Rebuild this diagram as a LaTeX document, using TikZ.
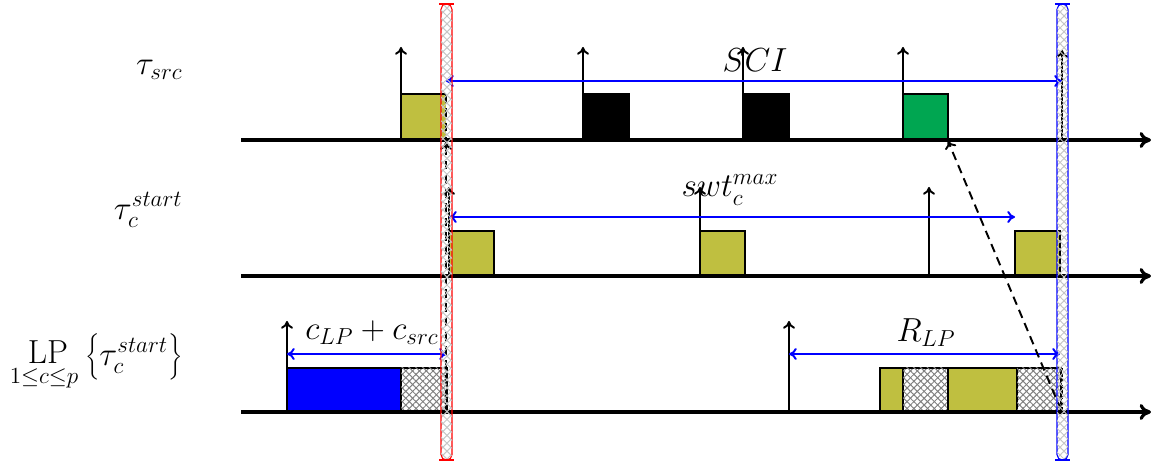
\documentclass[tikz,border=0pt]{standalone}
\usetikzlibrary{patterns.meta,arrows.meta}
\definecolor{olivebox}{RGB}{191,191,64}
\definecolor{greenbox}{RGB}{0,166,81}
\begin{document}
\begin{tikzpicture}[x=0.5184pt,y=-0.5184pt,
  every node/.style={font=\LARGE},
  axisline/.style={line width=1.64pt,-{To[length=5.9pt,width=8.3pt]}},
  uparrow/.style={line width=1pt,-{To[length=4pt,width=6.2pt]}},
  span/.style={blue,line width=1pt,{To[length=4pt,width=6.2pt]}-{To[length=4pt,width=6.2pt]}},
  job/.style={draw=black,line width=1pt},
  hatch/.style={pattern={Lines[angle=45,distance=2.5pt,line width=0.52pt]},pattern color=gray,
    postaction={pattern={Lines[angle=-45,distance=2.5pt,line width=0.52pt]},pattern color=gray}},
  bandhatch/.style={pattern={Lines[angle=45,distance=2.9pt,line width=0.52pt]},pattern color=gray!45,
    postaction={pattern={Lines[angle=-45,distance=2.9pt,line width=0.52pt]},pattern color=gray!45}},
  dashline/.style={line width=1pt,dash pattern=on 4.5pt off 2.9pt},
  lbl/.style={inner sep=0pt,anchor=east}
]
\useasboundingbox (0,0) rectangle (1151,463);

% left labels
\node[lbl] (l1) at (183,70) {$\tau_{src}$};
\node[lbl] (l2) at (183,210) {$\tau_c^{start}$};
\node[inner sep=0pt] (l3a) at (48,352) {$\mathrm{LP}$};
\node[inner sep=0pt] (l3b) at (44,378) {$\scriptstyle 1\le c\le p$};
\node[lbl] (l3c) at (183,358) {$\left\{\rule[-9pt]{0pt}{24pt}\tau_c^{start}\right\}$};

% axes
\coordinate (a1s) at (241,140); \coordinate (a1e) at (1151,140);
\coordinate (a2s) at (241,276); \coordinate (a2e) at (1151,276);
\coordinate (a3s) at (241,412); \coordinate (a3e) at (1151,412);

% row 1 jobs
\fill[olivebox] (401,94) rectangle (446,140);
\draw[job] (446,94) -- (401,94) -- (401,140);
\draw[job,fill=black] (583,94) rectangle (629,140);
\draw[job,fill=black] (743,94) rectangle (789,140);
\draw[job,fill=greenbox] (903,94) rectangle (948,140);

% row 2 jobs
\draw[job,fill=olivebox] (449,231) rectangle (494,276);
\draw[job,fill=olivebox] (700,231) rectangle (745,276);
\draw[job,fill=olivebox] (1015,231) rectangle (1060,276);

% row 3 jobs
\draw[job,fill=blue] (287,368) rectangle (401,412);
\draw[job,hatch] (401,368) rectangle (447,412);
\draw[job,fill=olivebox] (880,368) rectangle (903,412);
\draw[job,hatch] (903,368) rectangle (948,412);
\draw[job,fill=olivebox] (948,368) rectangle (1017,412);
\draw[job,hatch] (1017,368) rectangle (1061,412);

% axes drawn
\draw[axisline] (a1s) -- (a1e);
\draw[axisline] (a2s) -- (a2e);
\draw[axisline] (a3s) -- (a3e);

% release arrows row 1
\foreach \x/\n in {401/r1a,583/r1b,743/r1c,903/r1d}{
  \coordinate (\n b) at (\x,140); \coordinate (\n t) at (\x,47);
  \draw[uparrow] (\n b) -- (\n t);
}
\coordinate (r1eb) at (1062,140); \coordinate (r1et) at (1062,50);
\draw[uparrow] (r1eb) -- (r1et);

% release arrows row 2
\foreach \x/\n in {449/r2a,700/r2b,929/r2c}{
  \coordinate (\n b) at (\x,276); \coordinate (\n t) at (\x,187);
  \draw[uparrow] (\n b) -- (\n t);
}

% release arrows row 3
\foreach \x/\n in {287/r3a,789/r3b}{
  \coordinate (\n b) at (\x,412); \coordinate (\n t) at (\x,321);
  \draw[uparrow] (\n b) -- (\n t);
}

% spans
\coordinate (sciL) at (446,81); \coordinate (sciR) at (1062,81);
\draw[span] (sciL) -- (sciR);
\node (sci) at (755,60) {$SCI$};

\coordinate (swtL) at (449,217); \coordinate (swtR) at (1015,217);
\draw[span] (swtL) -- (swtR);
\node (swt) at (730,190) {$swt_c^{max}$};

\coordinate (cL) at (287,354); \coordinate (cR) at (447,354);
\draw[span] (cL) -- (cR);
\node (cl) at (372,333) {$c_{LP}+c_{src}$};

\coordinate (rL) at (789,354); \coordinate (rR) at (1060,354);
\draw[span] (rL) -- (rR);
\node (rl) at (926,333) {$R_{LP}$};

% dashed dependencies
\coordinate (d1a) at (446,412); \coordinate (d1b) at (446,142); \coordinate (d1c) at (446,94);
\draw[dashline] (d1c) -- (446,140);
\draw[dashline,-{To[length=4pt,width=6.2pt]}] (d1a) -- (d1b);
\coordinate (d2a) at (1061,410); \coordinate (d2b) at (948,141);
\draw[dashline,-{To[length=4pt,width=6.2pt]}] (d2a) -- (d2b);
\draw[line width=1pt,dash pattern=on 1.7pt off 1.2pt] (1062,368) -- (1062,412);

% bands
\draw[red,line width=0.55pt,bandhatch,rounded corners=2.76pt] (441,4) rectangle (452,460);
\draw[red,line width=0.86pt] (439,4) -- (454,4);
\draw[red,line width=0.86pt] (439,460) -- (454,460);
\draw[blue,line width=0.55pt,bandhatch,rounded corners=2.76pt] (1057,4) rectangle (1068,460);
\draw[blue,line width=0.86pt] (1055,4) -- (1070,4);
\draw[blue,line width=0.86pt] (1055,460) -- (1070,460);
\end{tikzpicture}
\end{document}
